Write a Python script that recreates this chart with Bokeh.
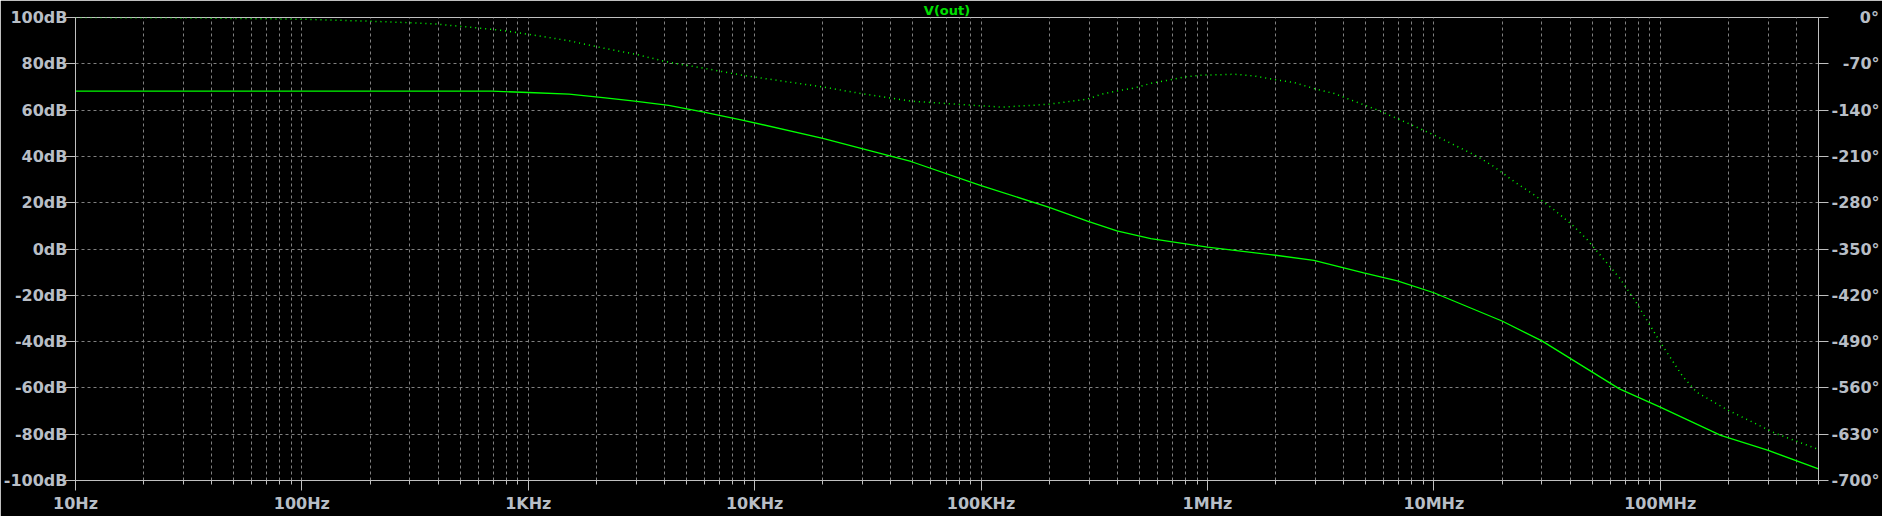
from bokeh.plotting import figure
from bokeh.models import Range1d, LinearAxis, FixedTicker, CustomJSTickFormatter
from bokeh.embed import file_html
from bokeh.resources import INLINE

# ---------------- data ----------------
mag_freq = [10, 692, 1000, 1514, 2138, 2951, 4169, 5888, 8810, 20000, 29500,
            49000, 1.0e5, 2.0e5, 2.95e5, 3.98e5, 5.62e5, 1.0e6, 2.0e6, 2.95e6,
            4.9e6, 6.9e6, 1.0e7, 2.0e7, 3.0e7, 6.6e7, 1.0e8, 1.85e8, 3.0e8, 5.0e8]
mag_db = [68.2, 68.2, 67.6, 66.9, 65.4, 63.9, 62.0, 59.2, 55.7, 47.8, 43.5,
          37.8, 27.4, 18.0, 12.0, 7.8, 4.5, 0.8, -2.7, -4.9,
          -10.3, -13.8, -18.9, -31.1, -39.7, -60.4, -68.3, -80.5, -87.0, -95.0]

ph_freq = [10, 25, 40, 100, 200, 280, 393, 551, 773, 1081, 1514, 2138, 2985,
           4188, 5875, 8810, 20000, 29500, 49000, 1.0e5, 1.23e5, 1.74e5, 2.0e5,
           2.95e5, 3.4e5, 4.17e5, 4.78e5, 5.65e5, 6.7e5, 7.93e5, 9.4e5, 1.32e6,
           1.61e6, 1.98e6, 2.42e6, 2.96e6, 3.63e6, 4.45e6, 5.64e6, 7.14e6, 1.0e7,
           1.23e7, 1.56e7, 1.84e7, 2.26e7, 2.77e7, 3.39e7, 4.15e7, 4.75e7, 6.6e7,
           7.76e7, 1.0e8, 1.25e8, 1.45e8, 2.0e8, 3.24e8, 5.0e8]
ph_deg = [0.0, -0.5, -1.0, -2.6, -5.6, -7.5, -10.0, -14.6, -19.6, -27.1, -35.2,
          -46.2, -55.7, -67.8, -76.3, -87.3, -105.0, -115.0, -126.5, -133.5,
          -135.5, -132.5, -131.0, -123.4, -115.9, -109.9, -106.4, -99.4, -94.8,
          -89.9, -87.3, -85.8, -88.4, -93.9, -98.4, -107.5, -115.0, -126.5,
          -140.0, -155.0, -177.6, -192.7, -210.3, -225.3, -247.9, -268.0, -290.5,
          -315.7, -335.7, -393.5, -428.6, -491.0, -541.5, -566.6, -594.0, -629.0,
          -653.0]

x_ticks = [10, 100, 1e3, 1e4, 1e5, 1e6, 1e7, 1e8]
x_labels = ["10Hz", "100Hz", "1KHz", "10KHz", "100KHz", "1MHz", "10MHz", "100MHz"]
db_ticks = [-100, -80, -60, -40, -20, 0, 20, 40, 60, 80, 100]
db_labels = ["-100dB", "-80dB", "-60dB", "-40dB", "-20dB", "0dB", "20dB",
             "40dB", "60dB", "80dB", "100dB"]
deg_ticks = [-700, -630, -560, -490, -420, -350, -280, -210, -140, -70, 0]
deg_labels = ["-700°", "-630°", "-560°", "-490°", "-420°", "-350°", "-280°",
              "-210°", "-140°", "\u2007-70°", "\u2007\u2007\u20080°"]
title_text = "V(out)"

F_MIN, F_MAX = 10, 5e8

# ---------------- styling ----------------
GRID = "#808080"
FRAME = "#c0c0c0"
TXT = "#b8bec6"
GREEN = "#00ff00"
FONT = "DejaVu Sans"

minor = [k * 10 ** d for d in range(1, 9) for k in range(2, 10) if k * 10 ** d <= F_MAX]


def fmt(vals, labs):
    return CustomJSTickFormatter(
        args=dict(vals=vals, labs=labs),
        code="const i = vals.indexOf(tick); return i >= 0 ? labs[i] : '';")


def style_axis(ax, standoff):
    ax.axis_line_color = FRAME
    ax.major_tick_line_color = FRAME
    ax.major_tick_out = 10
    ax.major_tick_in = 0
    ax.major_label_standoff = standoff
    ax.major_label_text_font = FONT
    ax.major_label_text_font_size = "16px"
    ax.major_label_text_font_style = "bold"
    ax.major_label_text_color = TXT


p = figure(width=1882, height=516, x_axis_type="log",
           x_range=Range1d(F_MIN, F_MAX), y_range=Range1d(-100, 100),
           output_backend="svg", toolbar_location=None,
           background_fill_color="black", border_fill_color="black",
           min_border_left=72, min_border_right=63, min_border_top=15,
           min_border_bottom=36)
p.outline_line_color = FRAME
p.outline_line_width = 1

# title
p.title.text = title_text
p.title.align = "center"
p.title.text_font = FONT
p.title.text_font_size = "13px"
p.title.text_font_style = "bold"
p.title.text_color = "#00e000"
p.title.standoff = 0

# x axis
xa = p.xaxis[0]
xa.ticker = FixedTicker(ticks=x_ticks, minor_ticks=minor)
xa.formatter = fmt(x_ticks, x_labels)
style_axis(xa, 3)
xa.minor_tick_line_color = FRAME
xa.minor_tick_out = 4
xa.minor_tick_in = 0

# left axis
ya = p.yaxis[0]
ya.ticker = FixedTicker(ticks=db_ticks)
ya.formatter = fmt(db_ticks, db_labels)
style_axis(ya, -2)
ya.minor_tick_line_color = None

# right axis (phase)
p.extra_y_ranges = {"phase": Range1d(-700, 0)}
ra = LinearAxis(y_range_name="phase", ticker=FixedTicker(ticks=deg_ticks),
                formatter=fmt(deg_ticks, deg_labels))
style_axis(ra, 3)
ra.minor_tick_line_color = None
p.add_layout(ra, "right")

# grids
p.xgrid.grid_line_color = GRID
p.xgrid.grid_line_dash = "3 3"
p.xgrid.minor_grid_line_color = GRID
p.xgrid.minor_grid_line_dash = "3 3"
p.ygrid.grid_line_color = GRID
p.ygrid.grid_line_dash = "3 3"

# curves
p.line(mag_freq, mag_db, line_color=GREEN, line_width=1.3)
p.line(ph_freq, ph_deg, line_color=GREEN, line_width=1.5, line_dash="1 4",
       y_range_name="phase")

open("out.html", "w").write(file_html(p, INLINE))
